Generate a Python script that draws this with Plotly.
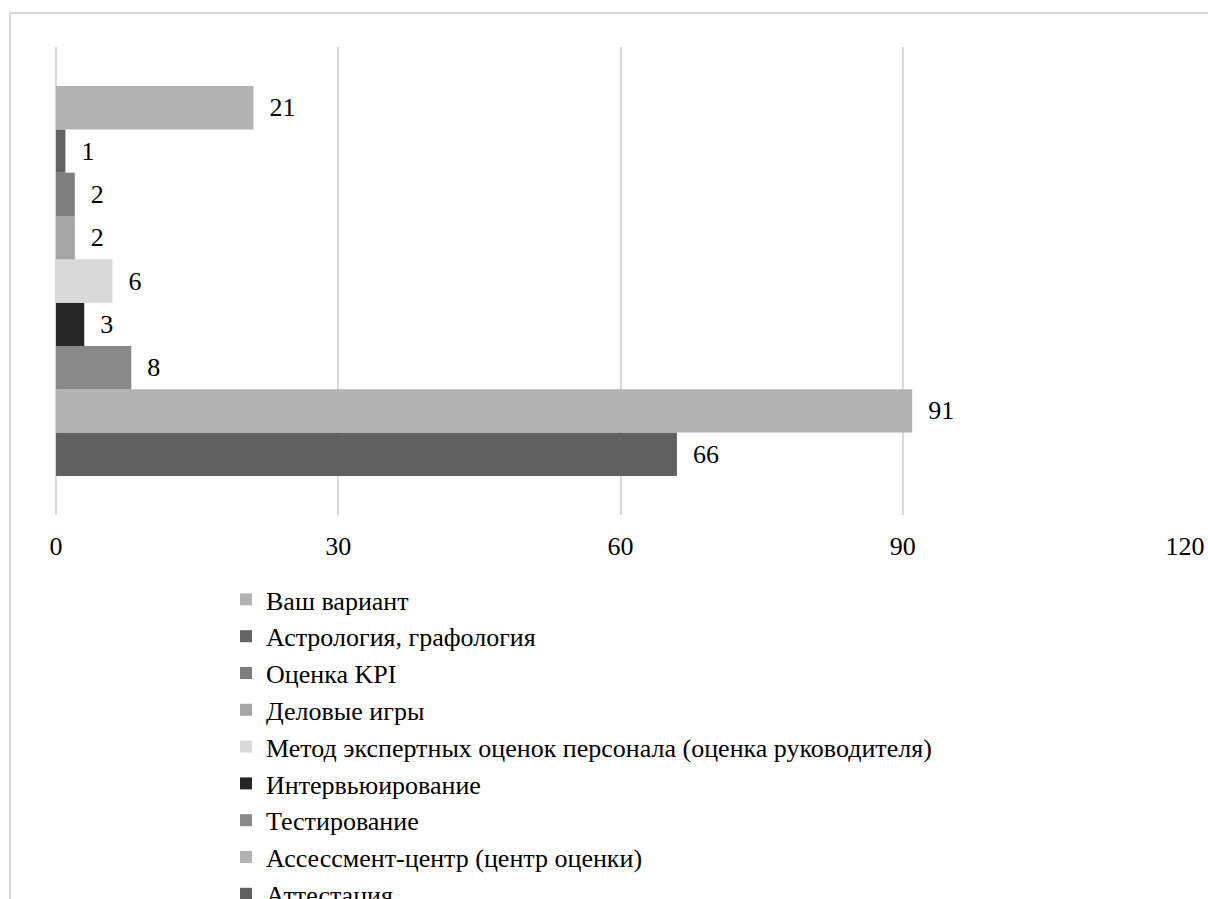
import plotly.graph_objects as go

# bottom-to-top order of bars (plotly places first horizontal trace lowest)
names = [
    "Аттестация",
    "Ассессмент-центр (центр оценки)",
    "Тестирование",
    "Интервьюирование",
    "Метод экспертных оценок персонала (оценка руководителя)",
    "Деловые игры",
    "Оценка KPI",
    "Астрология, графология",
    "Ваш вариант",
]
values = [66, 91, 8, 3, 6, 2, 2, 1, 21]
colors = ["#606060", "#b2b2b2", "#898989", "#262626", "#d9d9d9",
          "#a5a5a5", "#7f7f7f", "#636363", "#b2b2b2"]
x_ticks = [0, 30, 60, 90, 120]

FONT = "Liberation Serif, Times New Roman, serif"
FS = 26

fig = go.Figure()
for n, v, c in zip(names, values, colors):
    fig.add_trace(go.Bar(
        y=[""], x=[v], name=n, orientation="h",
        marker=dict(color=c, line=dict(width=0)),
        text=[v], texttemplate="\u00a0\u00a0%{x}", textposition="outside",
        textfont=dict(family=FONT, size=FS, color="#000000"),
        cliponaxis=False,
    ))

L, R, T, B = 56, 23, 47, 384
W, H = 1208, 899
pw = W - L - R
ph = H - T - B

fig.update_layout(
    width=W, height=H,
    margin=dict(l=L, r=R, t=T, b=B, pad=0, autoexpand=False),
    paper_bgcolor="white", plot_bgcolor="white",
    barmode="group", bargap=0.167, bargroupgap=0,
    font=dict(family=FONT, size=FS, color="#000000"),
    showlegend=True,
    legend=dict(
        traceorder="reversed",
        x=(226 - L) / pw, xanchor="left",
        y=-(576 - (T + ph)) / ph, yanchor="top",
        font=dict(family=FONT, size=FS, color="#000000"),
        bgcolor="rgba(0,0,0,0)",
        itemclick=False,
    ),
    xaxis=dict(
        range=[0, 120], tickvals=x_ticks, ticktext=[str(t) for t in x_ticks],
        showgrid=True, gridcolor="#d9d9d9", gridwidth=1.5,
        zeroline=True, zerolinecolor="#d9d9d9", zerolinewidth=1.5,
        showline=False, ticks="", ticklabelstandoff=13,
        tickfont=dict(family=FONT, size=FS, color="#000000"),
    ),
    yaxis=dict(showticklabels=False, showgrid=False, zeroline=False, showline=False),
    shapes=[dict(
        type="rect", xref="paper", yref="paper",
        x0=(10 - L) / pw, x1=(1240 - L) / pw,
        y0=(T + ph - 940) / ph, y1=(T + ph - 13) / ph,
        line=dict(color="#d9d9d9", width=2), fillcolor="rgba(0,0,0,0)", layer="below",
    )],
)

fig.write_html("out.html")
